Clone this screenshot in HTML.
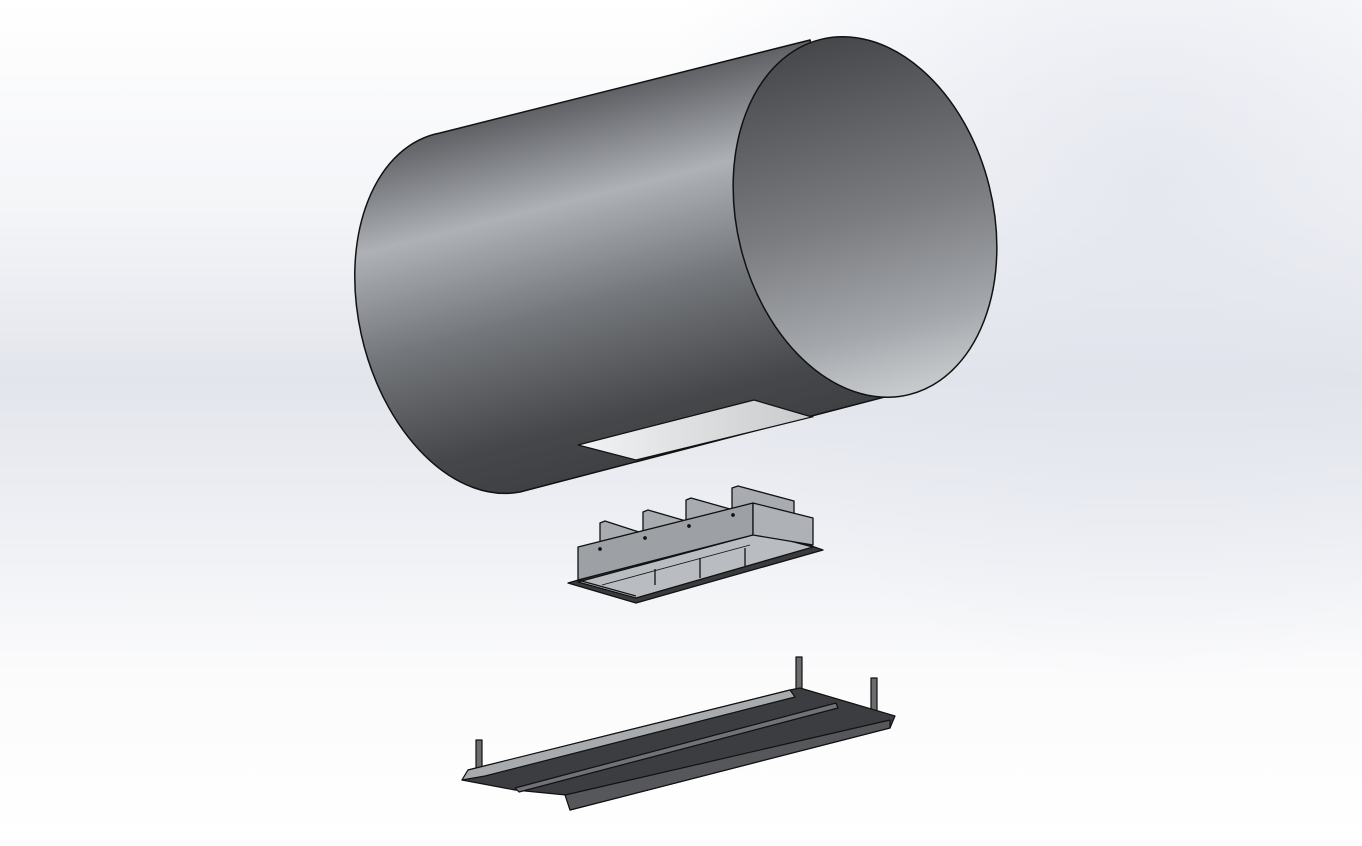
<!DOCTYPE html>
<html><head><style>html,body{margin:0;padding:0;}body{width:1362px;height:841px;overflow:hidden;}</style></head>
<body>
<svg width="1362" height="841" viewBox="0 0 1362 841" xmlns="http://www.w3.org/2000/svg">
<defs>
<linearGradient id="bg" x1="0" y1="0" x2="0" y2="1">
<stop offset="0" stop-color="#ffffff"/><stop offset="0.25" stop-color="#f4f5f8"/>
<stop offset="0.45" stop-color="#e3e5ec"/><stop offset="0.6" stop-color="#eceef3"/>
<stop offset="0.8" stop-color="#fbfbfc"/><stop offset="1" stop-color="#ffffff"/></linearGradient>
<radialGradient id="tint" cx="1150" cy="180" r="500" gradientUnits="userSpaceOnUse">
<stop offset="0" stop-color="#dfe2ec" stop-opacity="0.7"/><stop offset="1" stop-color="#dfe2ec" stop-opacity="0"/></radialGradient>
<linearGradient id="body" gradientUnits="userSpaceOnUse" x1="450" y1="120" x2="545" y2="495">
<stop offset="0" stop-color="#56585c"/><stop offset="0.28" stop-color="#aeb1b6"/>
<stop offset="0.55" stop-color="#74777b"/><stop offset="0.85" stop-color="#46474a"/>
<stop offset="1" stop-color="#3e3f42"/></linearGradient>
<linearGradient id="end" x1="0" y1="0" x2="0" y2="1">
<stop offset="0" stop-color="#46474b"/><stop offset="0.5" stop-color="#7a7c80"/>
<stop offset="0.8" stop-color="#a2a5a9"/><stop offset="1" stop-color="#c9cccf"/></linearGradient>
<linearGradient id="slot" x1="0" y1="0" x2="1" y2="0">
<stop offset="0" stop-color="#f2f3f4"/><stop offset="1" stop-color="#c8cacc"/></linearGradient>
</defs>
<rect width="1362" height="841" fill="url(#bg)"/>
<rect width="1362" height="841" fill="url(#tint)"/>
<g stroke="#111" stroke-width="1.5">
<path d="M810,40 L440,133 A120,183 -14 0 0 520,492 L900,393 Z" fill="url(#body)"/>
<polygon points="578,445 754,400 812,417 636,460" fill="url(#slot)" stroke-width="1.2"/>
<ellipse cx="865" cy="217" rx="128" ry="183" transform="rotate(-14 865 217)" fill="url(#end)"/>
</g>
<g stroke="#111" stroke-width="1.3" stroke-linejoin="round">
<polygon points="732,488 738,486 794,501 794,515 753,505 732,512" fill="#a8abaf"/>
<polygon points="686,500 691,498 730,509 730,521 686,530" fill="#a8abaf"/>
<polygon points="643,512 648,510 686,521 686,533 643,542" fill="#a8abaf"/>
<polygon points="600,523 605,521 642,533 642,545 600,552" fill="#a8abaf"/>
<polygon points="568,583 760,528 823,550 636,603" fill="#3a3b3e"/>
<polygon points="578,582 760,533 813,547 636,598" fill="#b9bcc0"/>
<polygon points="578,580 753,535 753,503 578,547" fill="#9da0a4"/>
<polygon points="753,503 813,518 813,545 753,535" fill="#aeb1b5"/>
<line x1="578" y1="580" x2="636" y2="596"/>
<line x1="655" y1="569" x2="655" y2="585"/>
<line x1="700" y1="558" x2="700" y2="578"/>
<line x1="745" y1="548" x2="745" y2="566"/>
<line x1="602" y1="585" x2="750" y2="545" stroke-width="0.8"/>
<circle cx="600" cy="549" r="1.2" fill="#111"/><circle cx="645" cy="538" r="1.2" fill="#111"/>
<circle cx="689" cy="526" r="1.2" fill="#111"/><circle cx="733" cy="515" r="1.2" fill="#111"/>
</g>
<g stroke="#111" stroke-width="1.2" stroke-linejoin="round">
<rect x="476" y="740" width="6" height="36" fill="#6a6c70"/>
<rect x="796" y="657" width="6" height="38" fill="#6a6c70"/>
<rect x="871" y="678" width="6" height="34" fill="#6a6c70"/>
<polygon points="462,780 468,770 790,690 800,688 895,716 890,728 570,810 566,795 515,790" fill="#3c3d40"/>
<polygon points="462,780 468,770 790,690 795,697 485,776" fill="#a8abae"/>
<polygon points="515,788 836,703 838,708 519,792" fill="#707276"/>
<polygon points="565,795 890,720 890,728 570,810" fill="#55575a"/>
</g>
</svg>
</body></html>
